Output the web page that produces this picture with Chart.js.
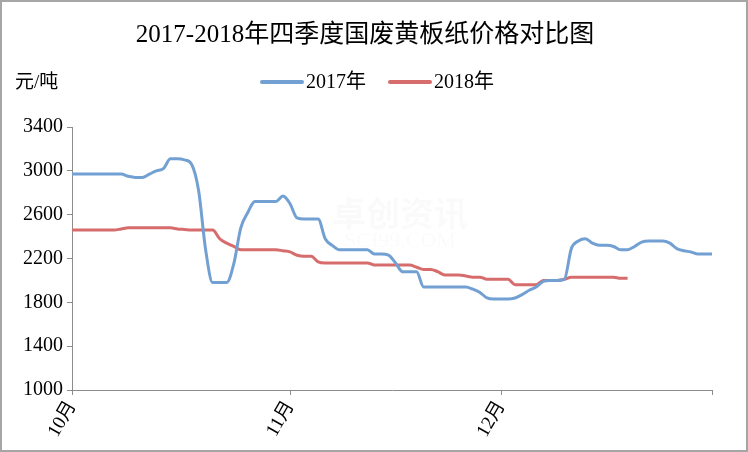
<!DOCTYPE html>
<html lang="zh">
<head>
    <meta charset="UTF-8">
    <title>2017-2018年四季度国废黄板纸价格对比图</title>
    <script src="https://cdn.jsdelivr.net/npm/chart.js"></script>
    <style>
        body { margin: 0; padding: 0; background: #ffffff; }
        .wrap { width: 748px; height: 452px; position: relative; }
    </style>
</head>
<body>
    <div class="wrap">
        <canvas id="priceChart" width="748" height="452"></canvas>
    </div>

    <script>
        // --- data (daily, 1 Oct .. 31 Dec) ---
        const monthNames = ['10月', '11月', '12月'];
        const monthDays = [31, 30, 31];
        const seriesNames = ['2017年', '2018年'];
        const yTicks = [1000, 1400, 1800, 2200, 2600, 3000, 3400];

        const price2017 = [
            2970, 2970, 2970, 2970, 2970, 2970, 2970, 2970,
            2950, 2940, 2940, 2970, 3000, 3020, 3110, 3110, 3100, 3060,
            2820, 2280, 1980, 1980, 1980, 2150, 2480, 2620, 2720, 2720,
            2720, 2720, 2770, 2700, 2570, 2560, 2560, 2560, 2380, 2320,
            2280, 2280, 2280, 2280, 2280, 2240, 2240, 2230, 2160, 2080,
            2080, 2080, 1940, 1940, 1940, 1940, 1940, 1940, 1940, 1920,
            1890, 1840, 1830, 1830, 1830, 1840, 1870, 1910, 1940, 1990,
            2000, 2000, 2010, 2290, 2360, 2380, 2340, 2320, 2320, 2310,
            2280, 2280, 2310, 2350, 2360, 2360, 2360, 2340, 2290, 2270,
            2260, 2240, 2240, 2240
        ];

        const price2018 = [
            2460, 2460, 2460, 2460, 2460, 2460, 2460, 2470,
            2480, 2480, 2480, 2480, 2480, 2480, 2480, 2470, 2465,
            2460, 2460, 2460, 2460, 2380, 2340, 2310,
            2280, 2280, 2280, 2280, 2280, 2280, 2270, 2260, 2230, 2220, 2220,
            2170, 2160, 2160, 2160, 2160, 2160, 2160, 2160,
            2140, 2140, 2140, 2140, 2140, 2140, 2120, 2100, 2100, 2080,
            2050, 2050, 2050, 2040, 2030, 2030, 2010, 2010, 2010, 2010,
            1960, 1960, 1960, 1960, 2000, 2000, 2000, 2010,
            2030, 2030, 2030, 2030, 2030, 2030, 2030, 2020, 2020
        ];

        const blue = 'rgb(114, 160, 211)';
        const red = 'rgb(214, 108, 108)';
        const serif = '"Liberation Serif", "Noto Sans CJK SC", serif';

        // one label per day, month name on the first day
        const days = [];
        const monthStart = {};
        monthDays.forEach((n, m) => {
            monthStart[days.length] = monthNames[m];
            for (let d = 1; d <= n; d++) days.push((m + 10) + '/' + d);
        });

        // title, unit, legend and frame
        const decorPlugin = {
            id: 'decor',
            afterDraw(chart) {
                const ctx = chart.ctx;
                ctx.save();
                ctx.fillStyle = '#000';
                ctx.textBaseline = 'middle';

                ctx.font = '25px ' + serif;
                ctx.textAlign = 'center';
                ctx.fillText('2017-2018年四季度国废黄板纸价格对比图', 365, 35);

                ctx.font = '19px ' + serif;
                ctx.textAlign = 'left';
                ctx.fillText('元/吨', 15, 83);

                ctx.font = '20px ' + serif;
                const starts = [262, 390];
                chart.data.datasets.forEach((ds, i) => {
                    const x = starts[i];
                    ctx.strokeStyle = ds.borderColor;
                    ctx.lineWidth = 4;
                    ctx.lineCap = 'round';
                    ctx.beginPath();
                    ctx.moveTo(x, 82);
                    ctx.lineTo(x + 40, 82);
                    ctx.stroke();
                    ctx.fillStyle = '#000';
                    ctx.fillText(ds.label, x + 44, 83);
                });

                ctx.strokeStyle = '#a6a6a6';
                ctx.lineWidth = 2;
                ctx.strokeRect(1, 1, 746, 450);
                ctx.restore();
            },
            beforeDatasetsDraw(chart) {
                // faint watermark
                const ctx = chart.ctx;
                ctx.save();
                ctx.fillStyle = 'rgba(0, 0, 0, 0.018)';
                ctx.textAlign = 'center';
                ctx.textBaseline = 'middle';
                ctx.font = 'bold 34px "Noto Sans CJK SC", sans-serif';
                ctx.fillText('卓创资讯', 400, 213);
                ctx.font = '22px ' + serif;
                ctx.fillText('SCI99.COM', 400, 241);
                ctx.restore();
            }
        };

        new Chart(document.getElementById('priceChart'), {
            type: 'line',
            data: {
                labels: days,
                datasets: [
                    {
                        label: seriesNames[0],
                        data: price2017,
                        borderColor: blue,
                        borderWidth: 3,
                        pointRadius: 0,
                        cubicInterpolationMode: 'monotone'
                    },
                    {
                        label: seriesNames[1],
                        data: price2018,
                        borderColor: red,
                        borderWidth: 3,
                        pointRadius: 0,
                        cubicInterpolationMode: 'monotone'
                    }
                ]
            },
            options: {
                responsive: false,
                animation: false,
                layout: { padding: { top: 127, right: 36, left: 0, bottom: 0 } },
                plugins: {
                    legend: { display: false },
                    title: { display: false },
                    tooltip: { enabled: false }
                },
                scales: {
                    x: {
                        offset: false,
                        afterFit(scale) { scale.height = 62; },
                        border: { color: '#8c8c8c', width: 1 },
                        grid: { drawOnChartArea: false, tickLength: 5, color: '#8c8c8c' },
                        ticks: {
                            autoSkip: false,
                            maxRotation: 60,
                            minRotation: 60,
                            padding: 2,
                            color: '#000',
                            font: { family: serif, size: 19 },
                            callback(value, index) {
                                if (monthStart[index] !== undefined) return monthStart[index];
                                if (index === days.length - 1) return '';
                                return null;
                            }
                        }
                    },
                    y: {
                        min: 1000,
                        max: 3400,
                        afterFit(scale) { scale.width = 72; },
                        afterBuildTicks(scale) { scale.ticks = yTicks.map(v => ({ value: v })); },
                        border: { color: '#8c8c8c', width: 1 },
                        grid: { drawOnChartArea: false, tickLength: 5, color: '#8c8c8c' },
                        ticks: {
                            padding: 4,
                            color: '#000',
                            font: { family: serif, size: 20 },
                            callback: value => String(value)
                        }
                    }
                }
            },
            plugins: [decorPlugin]
        });
    </script>
</body>
</html>
